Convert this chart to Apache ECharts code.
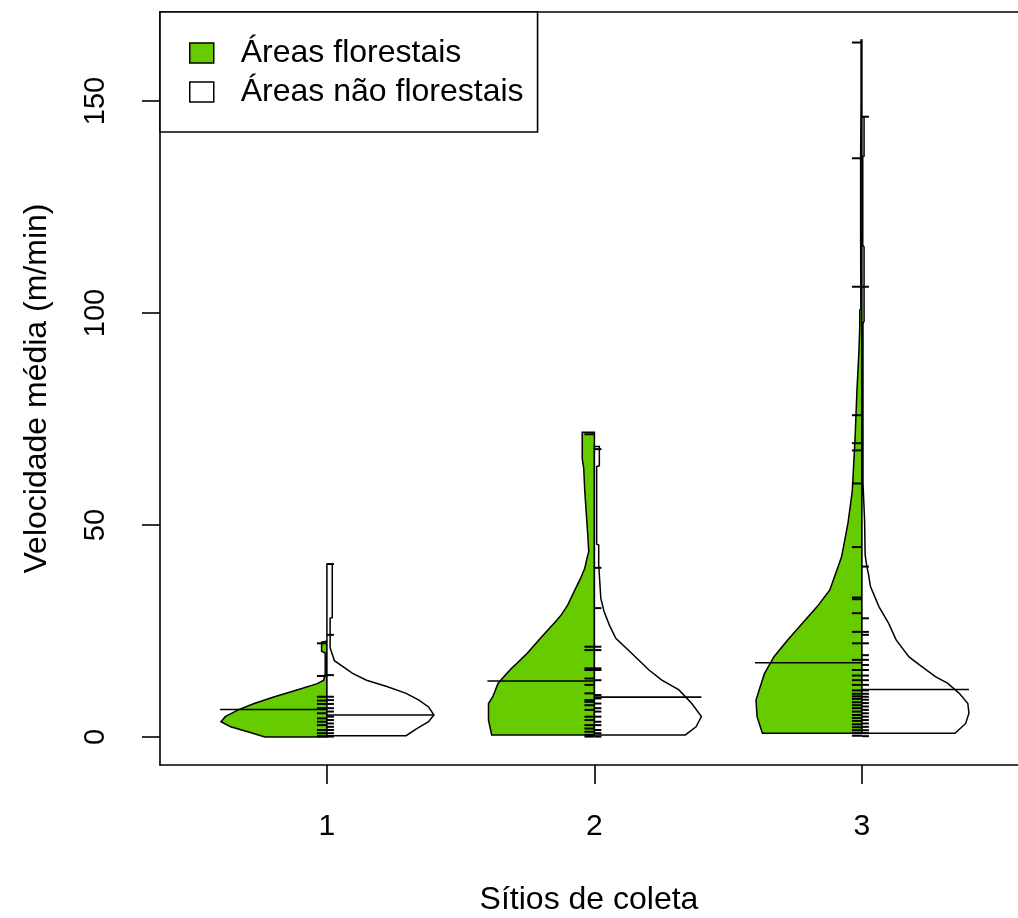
<!DOCTYPE html>
<html><head><meta charset="utf-8">
<script src="https://cdn.jsdelivr.net/npm/echarts@6/dist/echarts.min.js"></script>
<style>html,body{margin:0;padding:0;background:#fff}#c{width:1018px;height:918px}</style>
</head><body><div id="c"></div>
<script>
// ---- data ----
const groups = [1, 2, 3];
const xTicks = [1, 2, 3];
const yTicks = [0, 50, 100, 150];
const seriesNames = ['Áreas florestais', 'Áreas não florestais'];

// group means (long horizontal lines)
const meanForest = [6.5, 13.2, 17.5];
const meanNonForest = [5.2, 9.4, 11.2];

// individual observations (short rug ticks)
const pointsForest1 = [22.1, 14.4, 9.5, 8.6, 7.8, 6.8, 5.6, 4.4, 3.6, 2.8, 1.65, 0.9, 0.2];
const pointsForest2 = [71.4, 21.3, 20.5, 16.2, 15.8, 13.8, 12.3, 10.3, 8.7, 8.3, 7.5, 6.4, 4.8, 4.0, 2.8, 2.0, 1.25, 0.5, 0.1];
const pointsForest3 = [163.8, 136.5, 106.2, 75.9, 69.3, 67.6, 59.8, 44.8, 32.9, 32.5, 29.2, 24.8, 22.1, 18.2, 15.8, 14.5, 13.4, 12.3, 11.0, 10.2, 9.6, 9.0, 8.2, 7.5, 6.8, 6.0, 5.2, 4.5, 3.8, 3.0, 2.3, 1.6, 0.9, 0.3];
const pointsNonForest1 = [40.8, 24.1, 14.6, 9.5, 8.7, 7.8, 6.8, 6.0, 4.8, 4.0, 3.2, 2.4, 1.65, 0.9, 0.1];
const pointsNonForest2 = [67.9, 39.9, 30.4, 21.3, 20.5, 16.2, 15.8, 13.4, 9.9, 9.1, 7.9, 6.8, 6.0, 4.8, 3.6, 2.8, 1.65, 0.9, 0.1];
const pointsNonForest3 = [146.3, 106.2, 40.2, 28.0, 24.8, 24.1, 22.1, 19.3, 18.2, 17.0, 15.8, 14.5, 13.4, 12.3, 11.0, 10.2, 9.5, 8.8, 8.0, 7.2, 6.4, 5.6, 4.8, 4.0, 3.2, 2.4, 1.6, 0.9, 0.2];

// density outlines: [value, relative density (1 = full bean half-width)]
const densForest1 = [[0.0,0.58],[1.25,0.74],[2.4,0.90],[3.6,0.99],[4.8,0.95],[6.4,0.83],[7.9,0.68],[9.5,0.49],[11.1,0.28],[12.6,0.09],[13.4,0.03],[15,0.016],[19.8,0.016],[20.2,0.05],[22.4,0.05],[22.6,0.0]];
const densForest2 = [[0.5,0.96],[4.0,0.99],[7.9,0.99],[9.5,0.95],[12.7,0.90],[15.8,0.79],[19.7,0.63],[23.7,0.49],[27.6,0.35],[28.8,0.31],[31.1,0.25],[34.3,0.19],[37.4,0.13],[39.8,0.09],[42.1,0.07],[43.7,0.053],[47.6,0.062],[53.1,0.077],[57.9,0.09],[63.4,0.10],[65.7,0.114],[71.9,0.114]];
const densForest3 = [[0.9,0.93],[1.65,0.94],[4.8,0.98],[8.7,0.99],[11.9,0.95],[15.0,0.91],[19.0,0.82],[23.0,0.69],[27.0,0.55],[30.7,0.42],[34.7,0.30],[42.5,0.19],[50.5,0.13],[58,0.09],[70,0.065],[82,0.046],[91,0.028],[97,0.02],[100.7,0.02],[101,0.01],[118.8,0.012],[137,0.012],[150,0.008],[164.4,0.008]];
const densNonForest1 = [[0.3,0.74],[2.0,0.84],[3.6,0.95],[5.2,1.0],[7.1,0.95],[8.7,0.86],[10.3,0.74],[11.9,0.56],[13.4,0.37],[15.0,0.24],[16.6,0.15],[18,0.07],[19.5,0.05],[21,0.03],[28,0.03],[28.2,0.05],[40.8,0.05]];
const densNonForest2 = [[0.5,0.85],[2.4,0.95],[4.8,1.0],[7.9,0.91],[11.1,0.79],[13.4,0.63],[15.8,0.51],[19.7,0.35],[23.3,0.20],[26.4,0.14],[29.6,0.09],[32.7,0.06],[40.6,0.04],[45.3,0.04],[45.5,0.021],[63.8,0.021],[64,0.046],[68.5,0.046]];
const densNonForest3 = [[0.9,0.87],[3.2,0.97],[5.6,1.0],[7.9,0.99],[10.3,0.91],[12.7,0.80],[14.2,0.69],[16.6,0.56],[18.9,0.44],[22.9,0.32],[26.8,0.25],[30.7,0.16],[35.5,0.08],[38.6,0.06],[40.2,0.046],[43,0.03],[51,0.025],[60,0.01],[97.6,0.01],[98,0.02],[115.6,0.02],[116,0.008],[136.9,0.008],[137,0.02],[146.3,0.02]];

const densForest = [densForest1, densForest2, densForest3];
const densNonForest = [densNonForest1, densNonForest2, densNonForest3];
const pointsForest = [pointsForest1, pointsForest2, pointsForest3];
const pointsNonForest = [pointsNonForest1, pointsNonForest2, pointsNonForest3];

// ---- styling ----
const BEAN_HALF = 0.4;
const FONT = 'Liberation Sans, Arial, sans-serif';
const GREEN = '#66CC00';
const X_MIN = 0.376, X_MAX = 3.5835, Y_MIN = -6.6, Y_MAX = 171;

function beanRender(side, profiles) {
  return function (params, api) {
    const i = params.dataIndex;
    const cx = api.value(0);
    const prof = profiles[i];
    const pts = [api.coord([cx, prof[0][0]])];
    prof.forEach(p => pts.push(api.coord([cx + side * p[1] * BEAN_HALF, p[0]])));
    pts.push(api.coord([cx, prof[prof.length - 1][0]]));
    const m = api.value(1);
    const a = api.coord([cx, m]);
    const b = api.coord([cx + side * BEAN_HALF, m]);
    return {
      type: 'group',
      children: [
        { type: 'polygon', shape: { points: pts }, style: { fill: api.visual('color'), stroke: '#000', lineWidth: 1.5 } },
        { type: 'line', shape: { x1: a[0], y1: a[1], x2: b[0], y2: b[1] }, style: { stroke: '#000', lineWidth: 1.6 } }
      ]
    };
  };
}
function rugRender(side, len) {
  return function (params, api) {
    const p = api.coord([api.value(0), api.value(1)]);
    return { type: 'line', shape: { x1: p[0], y1: p[1], x2: p[0] + side * len, y2: p[1] }, style: { stroke: '#000', lineWidth: 2 } };
  };
}
function rugData(pointsArr) {
  const out = [];
  pointsArr.forEach((arr, i) => arr.forEach(v => out.push([groups[i], v])));
  return out;
}

const chart = echarts.init(document.getElementById('c'), null, { renderer: 'canvas' });
chart.setOption({
  animation: false,
  backgroundColor: '#fff',
  textStyle: { fontFamily: FONT },
  grid: { left: 160, top: 12, right: 0, bottom: 153, show: false, outerBoundsMode: 'none', containLabel: false },
  xAxis: [{
    type: 'value', min: X_MIN, max: X_MAX, position: 'bottom',
    axisLine: { show: true, onZero: false, lineStyle: { color: '#000', width: 1.6 } }, splitLine: { show: false },
    axisTick: { show: true, customValues: xTicks, length: 19, lineStyle: { color: '#000', width: 1.6 } },
    axisLabel: { show: true, customValues: xTicks, fontSize: 30, color: '#000', margin: 47, fontFamily: FONT },
    name: 'Sítios de coleta', nameLocation: 'middle', nameGap: 119,
    nameTextStyle: { fontSize: 32, color: '#000', fontFamily: FONT }
  }, {
    type: 'value', min: X_MIN, max: X_MAX, position: 'top',
    axisLine: { show: true, onZero: false, lineStyle: { color: '#000', width: 1.6 } }, splitLine: { show: false },
    axisTick: { show: false }, axisLabel: { show: false }
  }],
  yAxis: {
    type: 'value', min: Y_MIN, max: Y_MAX,
    axisLine: { show: true, onZero: false, lineStyle: { color: '#000', width: 1.6 } }, splitLine: { show: false },
    axisTick: { show: true, customValues: yTicks, length: 18, lineStyle: { color: '#000', width: 1.6 } },
    axisLabel: { show: true, customValues: yTicks, rotate: 90, fontSize: 29, color: '#000', margin: 50, fontFamily: FONT },
    name: 'Velocidade média (m/min)', nameLocation: 'middle', nameGap: 107, nameRotate: 90,
    nameTextStyle: { fontSize: 32, color: '#000', fontFamily: FONT }
  },
  legend: {
    left: 160, top: 12, orient: 'vertical',
    backgroundColor: '#fff', borderColor: '#000', borderWidth: 1.6,
    padding: [25, 14, 24, 29], itemGap: 7, itemWidth: 24, itemHeight: 20, icon: 'rect',
    selectedMode: false,
    textStyle: { fontSize: 32, color: '#000', lineHeight: 30, padding: [0, 0, 0, 22], fontFamily: FONT },
    data: [
      { name: seriesNames[0], itemStyle: { color: GREEN, borderColor: '#000', borderWidth: 1.5 } },
      { name: seriesNames[1], itemStyle: { color: '#fff', borderColor: '#000', borderWidth: 1.5 } }
    ]
  },
  series: [
    { type: 'custom', name: seriesNames[0], itemStyle: { color: GREEN }, renderItem: beanRender(-1, densForest),
      data: groups.map((g, i) => [g, meanForest[i]]), encode: { x: 0, y: 1 }, z: 2 },
    { type: 'custom', name: seriesNames[1], itemStyle: { color: '#fff' }, renderItem: beanRender(1, densNonForest),
      data: groups.map((g, i) => [g, meanNonForest[i]]), encode: { x: 0, y: 1 }, z: 2 },
    { type: 'custom', name: 'rugForest', renderItem: rugRender(-1, 10), data: rugData(pointsForest), encode: { x: 0, y: 1 }, z: 3 },
    { type: 'custom', name: 'rugNonForest', renderItem: rugRender(1, 7), data: rugData(pointsNonForest), encode: { x: 0, y: 1 }, z: 3 }
  ]
});
</script></body></html>
